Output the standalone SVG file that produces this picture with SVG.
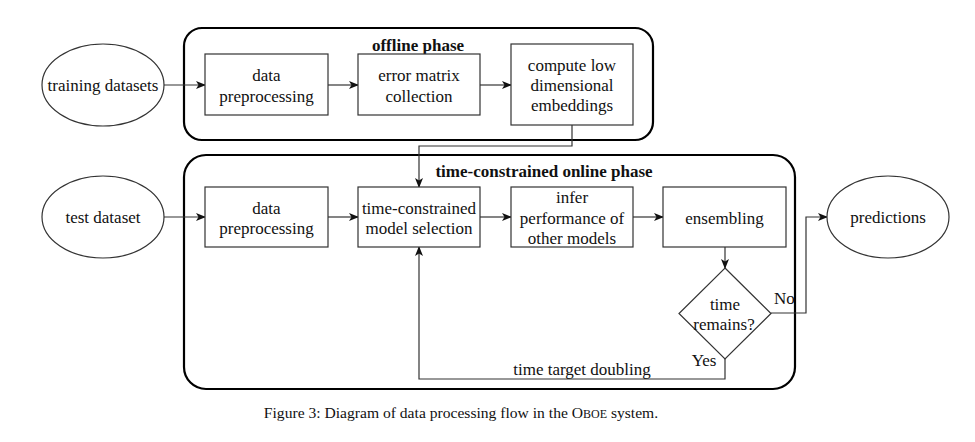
<svg xmlns="http://www.w3.org/2000/svg" width="975" height="442" viewBox="0 0 975 442">
<defs>
<marker id="arr" viewBox="0 0 10 8" refX="9" refY="4" markerWidth="10" markerHeight="8" markerUnits="userSpaceOnUse" orient="auto">
<path d="M0,0 L10,4 L0,8 L2.5,4 z" fill="#111"/>
</marker>
<style>
.t{font-family:"Liberation Serif","Times New Roman",serif;font-size:17px;fill:#111;text-anchor:middle}
.b{font-weight:bold;font-size:17px}
.cap{font-family:"Liberation Serif","Times New Roman",serif;font-size:15.6px;fill:#111;text-anchor:middle}
.sc{font-size:12px}
.box{fill:#fff;stroke:#333;stroke-width:1.2}
.phase{fill:none;stroke:#000;stroke-width:2.2}
.ca{fill:none;stroke:#333;stroke-width:1.2;marker-end:url(#arr)}
</style>
</defs>
<rect width="975" height="442" fill="#fff"/>
<g id="offline-phase">
<rect class="phase" x="184" y="28" width="469" height="112" rx="18"/>
<text class="t b" x="418" y="51">offline phase</text>
</g>
<g id="online-phase">
<rect class="phase" x="184" y="155" width="611" height="234" rx="22"/>
<text class="t b" x="544" y="177">time-constrained online phase</text>
</g>
<g id="connectors">
<path class="ca" d="M164,85 L205,85"/>
<path class="ca" d="M328,85 L358,85"/>
<path class="ca" d="M480,85 L511,85"/>
<path class="ca" d="M572,125 L572,146 L419,146 L419,187"/>
<path class="ca" d="M164,217 L205,217"/>
<path class="ca" d="M328,217 L358,217"/>
<path class="ca" d="M480,217 L511,217"/>
<path class="ca" d="M633,217 L663,217"/>
<path class="ca" d="M725,247 L725,268"/>
<path class="ca" d="M771,313 L806,313 L806,217 L827,217"/>
<path class="ca" d="M725,359 L725,379 L419,379 L419,247"/>
<text class="t" x="774" y="304" style="text-anchor:start">No</text>
<text class="t" x="704" y="366">Yes</text>
<text class="t" x="582" y="375">time target doubling</text>
</g>
<g id="training-datasets">
<ellipse class="box" cx="103" cy="85" rx="61" ry="41"/>
<text class="t" x="103" y="91">training datasets</text>
</g>
<g id="data-preprocessing-offline">
<rect class="box" x="205" y="54" width="123" height="61"/>
<text class="t" x="266.5" y="81">data</text>
<text class="t" x="266.5" y="102">preprocessing</text>
</g>
<g id="error-matrix-collection">
<rect class="box" x="358" y="54" width="122" height="61"/>
<text class="t" x="419" y="81">error matrix</text>
<text class="t" x="419" y="102">collection</text>
</g>
<g id="compute-embeddings">
<rect class="box" x="511" y="44" width="122" height="81"/>
<text class="t" x="572" y="71">compute low</text>
<text class="t" x="572" y="91">dimensional</text>
<text class="t" x="572" y="111">embeddings</text>
</g>
<g id="test-dataset">
<ellipse class="box" cx="103" cy="217" rx="61" ry="41"/>
<text class="t" x="103" y="223">test dataset</text>
</g>
<g id="data-preprocessing-online">
<rect class="box" x="205" y="187" width="123" height="60"/>
<text class="t" x="266.5" y="214">data</text>
<text class="t" x="266.5" y="234">preprocessing</text>
</g>
<g id="model-selection">
<rect class="box" x="358" y="187" width="122" height="60"/>
<text class="t" x="419" y="214">time-constrained</text>
<text class="t" x="419" y="234">model selection</text>
</g>
<g id="infer-performance">
<rect class="box" x="511" y="187" width="122" height="60"/>
<text class="t" x="572" y="203">infer</text>
<text class="t" x="572" y="224">performance of</text>
<text class="t" x="572" y="244">other models</text>
</g>
<g id="ensembling">
<rect class="box" x="663" y="187" width="123" height="60"/>
<text class="t" x="724.5" y="224">ensembling</text>
</g>
<g id="time-remains">
<path class="box" d="M725,268 L771,313.5 L725,359 L679,313.5 z"/>
<text class="t" x="725" y="310">time</text>
<text class="t" x="724" y="330">remains?</text>
</g>
<g id="predictions">
<ellipse class="box" cx="888" cy="217" rx="61" ry="41"/>
<text class="t" x="888" y="223">predictions</text>
</g>
<g id="caption">
<text class="cap" x="461" y="418">Figure 3: Diagram of data processing flow in the O<tspan class="sc">BOE</tspan> system.</text>
</g>
</svg>
